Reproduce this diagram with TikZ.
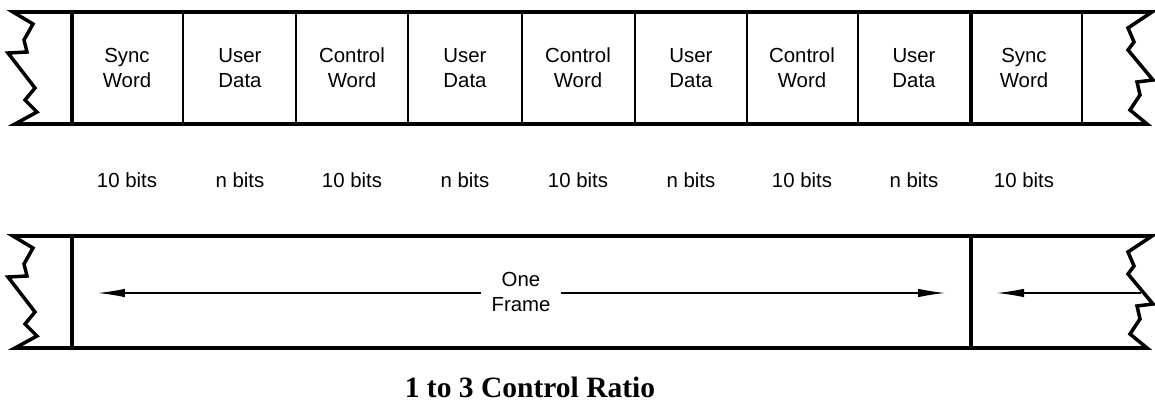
\documentclass[tikz,border=0pt]{standalone}
\usepackage{fontspec}
\setmainfont{Liberation Serif}
\newfontfamily\labelfont{Liberation Sans}
\usetikzlibrary{arrows.meta}
\newcommand{\cellfont}{\labelfont\fontsize{11.6}{14.4}\selectfont}
\begin{document}
\begin{tikzpicture}[x=0.02cm, y=-0.02cm,
		border/.style={line width=2pt},
		heavy/.style={line width=2.3pt},
		thin/.style={line width=0.75pt},
		word/.style={align=center, font=\cellfont, inner sep=0pt},
		arr/.style={line width=0.6pt, -{Latex[length=0.54cm, width=0.17cm]}}]
		\useasboundingbox (0,0) rectangle (1155,402);
		% both bands: outline with torn ends
		\foreach \oy in {0,224} {
			\begin{scope}[yshift=-\oy*0.02cm]
				\draw[border] (13,12) -- (1152,12) -- (1128,28) -- (1134,42) -- (1128,50) -- (1153,80)
					-- (1137,82) -- (1140,95) -- (1130,110) -- (1147,124) -- (15,124)
					-- (37,112) -- (25,100) -- (35,88) -- (8,53) -- (27,52) -- (24,40) -- (33,24) -- cycle;
				\draw[heavy] (72,12) -- (72,124);
				\draw[heavy] (971,12) -- (971,124);
			\end{scope}
		}
		% field dividers
		\foreach \x in {183,296,408,522,635,747,858,1082}
			\draw[thin] (\x,12) -- (\x,124);
		% fields and their sizes
		\foreach \i/\x/\txt/\len in {1/127/Sync\\Word/10 bits, 2/240/User\\Data/n bits,
				3/352/Control\\Word/10 bits, 4/465/User\\Data/n bits, 5/578/Control\\Word/10 bits,
				6/691/User\\Data/n bits, 7/802/Control\\Word/10 bits, 8/914/User\\Data/n bits,
				9/1024/Sync\\Word/10 bits} {
			\node[word] (c\i) at (\x,68) {\txt};
			\node[word] (b\i) at (\x,180) {\len};
		}
		% frame span
		\node[word, inner xsep=6pt] (frame) at (521,292) {One\\Frame};
		\coordinate (ltip) at (98,293);
		\coordinate (rtip) at (945,293);
		\coordinate (ntip) at (997,293);
		\coordinate (tear) at (1141,293);
		\draw[arr] (frame.west |- ltip) -- (ltip);
		\draw[arr] (frame.east |- rtip) -- (rtip);
		\draw[arr] (tear) -- (ntip);
		\node[font=\bfseries\fontsize{16.8}{19}\selectfont] (title) at (530,387) {1 to 3 Control Ratio};
	\end{tikzpicture}
\end{document}
